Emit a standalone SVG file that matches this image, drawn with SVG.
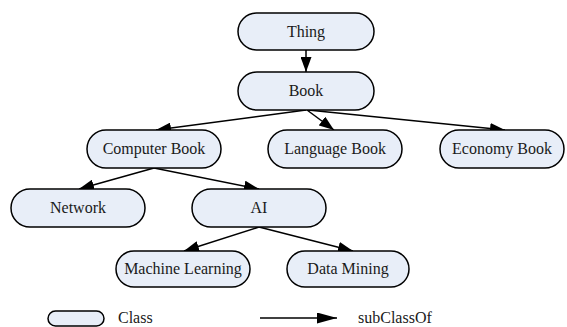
<svg xmlns="http://www.w3.org/2000/svg" width="567" height="327" viewBox="0 0 567 327">
<style>
.node rect{fill:#e8eef8;stroke:#000;stroke-width:1.5}
text{font-family:"Liberation Serif","Times New Roman",serif;font-size:16px;fill:#1a1a1a}
.node text{text-anchor:middle}
.edge{stroke:#000;stroke-width:1.5;fill:none;marker-end:url(#ah)}
</style>
<defs>
<marker id="ah" markerUnits="userSpaceOnUse" markerWidth="15" markerHeight="11" refX="15" refY="5.5" orient="auto"><path d="M0,0 L15,5.5 L0,11 z" fill="#000"/></marker>
<marker id="ah2" markerUnits="userSpaceOnUse" markerWidth="20" markerHeight="11" refX="20" refY="5.5" orient="auto"><path d="M0,0 L20,5.5 L0,11 z" fill="#000"/></marker>
</defs>
<g id="connectors">
<line class="edge" x1="306" y1="50" x2="306" y2="72"/>
<line class="edge" x1="306" y1="110" x2="156" y2="130"/>
<line class="edge" x1="307" y1="110" x2="334" y2="130"/>
<line class="edge" x1="308" y1="110" x2="505" y2="130"/>
<line class="edge" x1="154" y1="168" x2="79" y2="189"/>
<line class="edge" x1="154" y1="168" x2="259" y2="189"/>
<line class="edge" x1="259" y1="227" x2="184" y2="251"/>
<line class="edge" x1="259" y1="227" x2="353" y2="251"/>
</g>
<g id="thing" class="node"><rect x="238" y="13" width="136" height="37" rx="18.5"/><text x="306" y="37">Thing</text></g>
<g id="book" class="node"><rect x="238" y="72" width="136" height="38" rx="19"/><text x="306" y="96">Book</text></g>
<g id="computer-book" class="node"><rect x="87" y="130" width="134" height="38" rx="19"/><text x="154" y="154">Computer Book</text></g>
<g id="language-book" class="node"><rect x="268" y="130" width="134" height="38" rx="19"/><text x="335" y="154">Language Book</text></g>
<g id="economy-book" class="node"><rect x="440" y="130" width="124" height="38" rx="19"/><text x="502" y="154">Economy Book</text></g>
<g id="network" class="node"><rect x="11" y="189" width="134" height="38" rx="19"/><text x="78" y="213">Network</text></g>
<g id="ai" class="node"><rect x="192" y="189" width="134" height="38" rx="19"/><text x="259" y="213">AI</text></g>
<g id="machine-learning" class="node"><rect x="116" y="251" width="134" height="36" rx="18"/><text x="183" y="274">Machine Learning</text></g>
<g id="data-mining" class="node"><rect x="287" y="251" width="122" height="36" rx="18"/><text x="348" y="274">Data Mining</text></g>
<g id="legend">
<g id="legend-class" class="node"><rect x="48" y="311" width="56" height="15" rx="7.5"/></g>
<text x="118" y="323">Class</text>
<line x1="260" y1="318" x2="337" y2="318" stroke="#000" stroke-width="1.5" marker-end="url(#ah2)"/>
<text x="358" y="323">subClassOf</text>
</g>
</svg>
